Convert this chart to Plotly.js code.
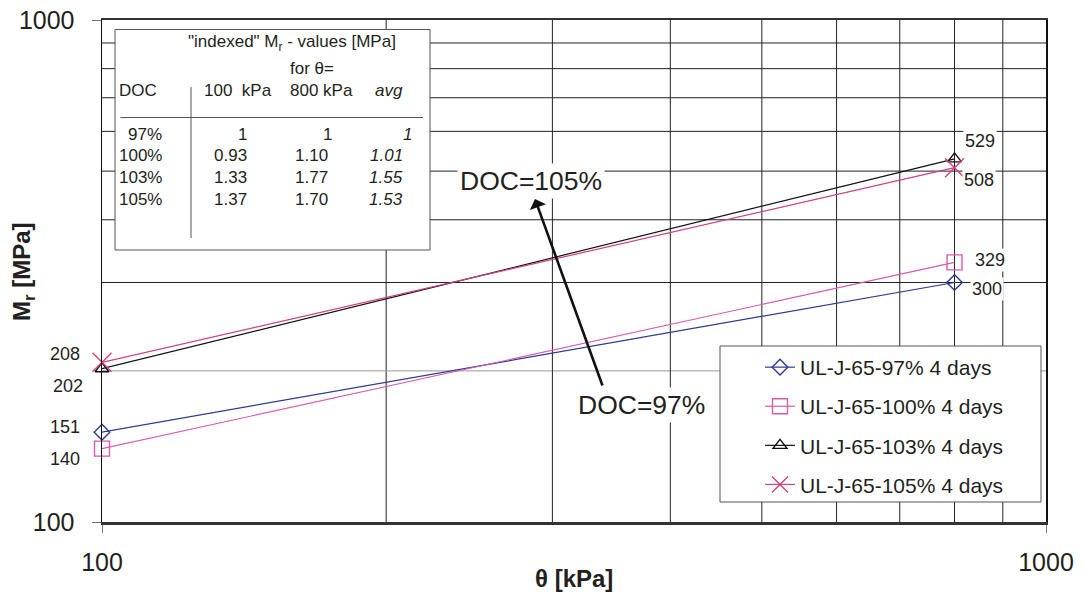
<!DOCTYPE html>
<html><head><meta charset="utf-8">
<script src="https://cdn.plot.ly/plotly-3.0.1.min.js"></script>
<style>html,body{margin:0;padding:0;background:#fff}#chart{width:1083px;height:595px}</style>
</head><body><div id="chart"></div>
<script>
// ---- data ----
const theta = [100, 800];
const seriesNames = ['UL-J-65-97% 4 days', 'UL-J-65-100% 4 days', 'UL-J-65-103% 4 days', 'UL-J-65-105% 4 days'];
const mr97 = [151, 300];
const mr100 = [140, 329];
const mr103 = [202, 529];
const mr105 = [208, 508];
const tableDOC = ['97%', '100%', '103%', '105%'];
const idx100 = ['1', '0.93', '1.33', '1.37'];
const idx800 = ['1', '1.10', '1.77', '1.70'];
const idxAvg = ['1', '1.01', '1.55', '1.53'];
const gridVals = [200, 300, 400, 500, 600, 700, 800, 900];
const axisTicks = [100, 1000];

// ---- style ----
const FONT = 'Arial, "Liberation Sans", Helvetica, sans-serif';
const TXT = '#231F20';
const L = 102, R = 1046, T = 20, B = 522;
const PX = p => (p - L) / (R - L);
const PY = p => (B - p) / (B - T);
const lg = Math.log10;

const allSeries = [mr97, mr100, mr103, mr105];
const colors = ['#2E3A94', '#DA5AAE', '#111111', '#D2417C'];
const symbols = ['diamond-open', 'square-open', 'triangle-up-open', 'x-thin-open'];
const msizes = [12, 15, 12, 19];

const traces = allSeries.map((s, i) => ({
  x: theta, y: s, name: seriesNames[i], type: 'scatter', mode: 'lines+markers',
  line: {color: colors[i], width: 1.2},
  marker: {symbol: symbols[i], size: msizes[i], color: colors[i], line: {color: colors[i], width: 1.4}},
  legendgroup: 'g' + i, cliponaxis: false
}));

const shapes = [];
gridVals.forEach(v => {
  shapes.push({type: 'line', xref: 'x', yref: 'paper', x0: v, x1: v, y0: 0, y1: 1, line: {color: '#222', width: 1}, layer: 'below'});
  shapes.push({type: 'line', xref: 'paper', yref: 'y', x0: 0, x1: 1, y0: v, y1: v, line: {color: v === 200 ? '#999' : '#222', width: 1}, layer: 'below'});
});
// table box
shapes.push({type: 'rect', xref: 'paper', yref: 'paper', x0: PX(115), x1: PX(430), y0: PY(250), y1: PY(29.5), fillcolor: '#fff', line: {color: '#555', width: 1}, layer: 'below'});
shapes.push({type: 'line', xref: 'paper', yref: 'paper', x0: PX(120.5), x1: PX(423), y0: PY(117.5), y1: PY(117.5), line: {color: '#555', width: 1}, layer: 'below'});
shapes.push({type: 'line', xref: 'paper', yref: 'paper', x0: PX(191), x1: PX(191), y0: PY(87), y1: PY(238), line: {color: '#555', width: 1}, layer: 'below'});
// legend box
shapes.push({type: 'rect', xref: 'paper', yref: 'paper', x0: PX(720), x1: PX(1041), y0: PY(502), y1: PY(346), fillcolor: '#fff', line: {color: '#555', width: 1}, layer: 'below'});

const ann = [];
function addPx(text, xp, yp, xanchor, size, extra) {
  ann.push(Object.assign({text: text, xref: 'paper', yref: 'paper', x: PX(xp), y: PY(yp), xanchor: xanchor, yanchor: 'middle',
    showarrow: false, font: {family: FONT, size: size, color: TXT}}, extra || {}));
}
// table texts
addPx('"indexed" M<sub>r</sub> - values [MPa]', 292, 43, 'center', 17);
addPx('for θ=', 312, 68, 'center', 17);
addPx('DOC', 117, 91, 'left', 17);
addPx('100  kPa', 238, 91, 'center', 17);
addPx('800 kPa', 321, 91, 'center', 17);
addPx('<i>avg</i>', 389, 91, 'center', 17);
tableDOC.forEach((d, i) => {
  const yp = 134 + 21.8 * i;
  addPx(d, 164, yp, 'right', 17);
  addPx(idx100[i], 249, yp, 'right', 17);
  addPx(idx800[i], i === 0 ? 334 : 330, yp, 'right', 17);
  addPx('<i>' + idxAvg[i] + '</i>', i === 0 ? 414 : 405, yp, 'right', 17);
});
// left value labels
const leftShift = [5, -10, -17, 8];
allSeries.forEach((s, i) => {
  ann.push({text: String(s[0]), xref: 'paper', yref: 'y', x: 0, y: lg(s[0]), xanchor: 'right', yanchor: 'middle',
    xshift: i === 2 ? -17 : -20, yshift: leftShift[i], showarrow: false, font: {family: FONT, size: 18, color: TXT}});
});
// right value labels
const rightX = [32, 35, 25, 24];
const rightY = [-7, 2, 18, -12];
allSeries.forEach((s, i) => {
  ann.push({text: String(s[1]), xref: 'x', yref: 'y', x: lg(theta[1]), y: lg(s[1]), xanchor: 'center', yanchor: 'middle',
    xshift: rightX[i], yshift: rightY[i], showarrow: false, bgcolor: '#fff', borderpad: 1,
    font: {family: FONT, size: 18, color: TXT}});
});
// DOC callouts
addPx('DOC=105%', 531, 181, 'center', 26.5, {bgcolor: '#fff', borderpad: 2});
addPx('DOC=97%', 641, 405, 'center', 26.5, {bgcolor: '#fff', borderpad: 2});
ann.push({text: '', xref: 'paper', yref: 'paper', x: PX(535), y: PY(199), axref: 'pixel', ayref: 'pixel', ax: 68, ay: 188,
  showarrow: true, arrowhead: 1, arrowsize: 1.1, arrowwidth: 2.6, arrowcolor: '#111', standoff: 0, startstandoff: 0});
// axis titles
addPx('<b>M<sub>r</sub> [MPa]</b>', 23, 272, 'center', 24, {textangle: -90});
addPx('<b>θ [kPa]</b>', 574, 578, 'center', 24);

const layout = {
  width: 1083, height: 595,
  margin: {l: L, r: 1083 - R, t: T, b: 595 - B, pad: 0},
  paper_bgcolor: '#fff', plot_bgcolor: '#fff',
  font: {family: FONT, color: TXT},
  showlegend: true,
  legend: {x: PX(760), y: PY(347), xanchor: 'left', yanchor: 'top', bgcolor: 'rgba(0,0,0,0)', borderwidth: 0,
    font: {family: FONT, size: 21, color: TXT}, traceorder: 'grouped', tracegroupgap: 8.8},
  xaxis: {type: 'log', range: [2, 3], tickvals: axisTicks, ticktext: axisTicks.map(String), showgrid: false, zeroline: false,
    showline: true, linecolor: '#333', linewidth: 2.5, mirror: true, ticks: 'outside', ticklen: 8, tickcolor: '#777', tickwidth: 1,
    tickfont: {family: FONT, size: 25, color: TXT}, ticklabelstandoff: 8},
  yaxis: {type: 'log', range: [2, 3], tickvals: axisTicks, ticktext: axisTicks.map(String), showgrid: false, zeroline: false,
    showline: true, linecolor: '#111', linewidth: 1.5, mirror: true, ticks: 'outside', ticklen: 9, tickcolor: '#777', tickwidth: 1,
    tickfont: {family: FONT, size: 25, color: TXT}, ticklabelstandoff: 12},
  shapes: shapes,
  annotations: ann
};
Plotly.newPlot('chart', traces, layout, {displayModeBar: false, staticPlot: true});
</script></body></html>
